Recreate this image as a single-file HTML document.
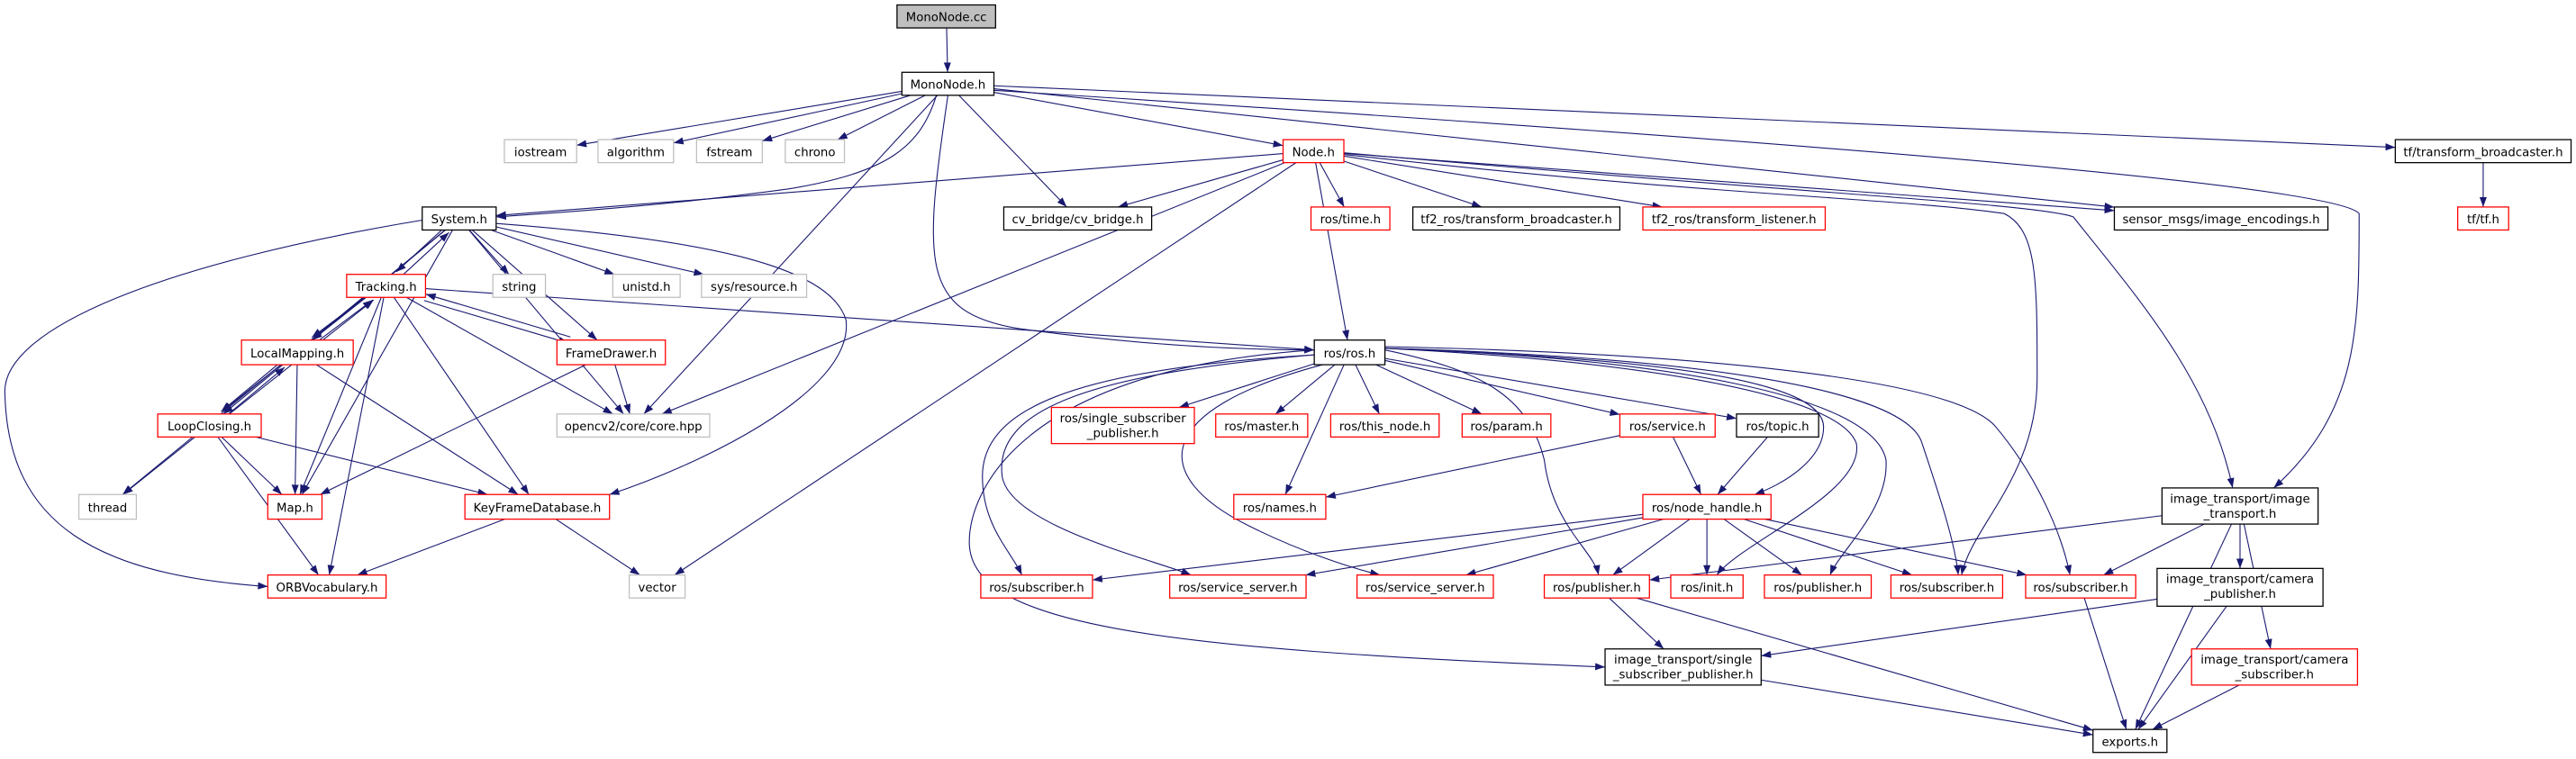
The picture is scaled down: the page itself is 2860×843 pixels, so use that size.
<!DOCTYPE html>
<html><head><meta charset="utf-8"><style>
html,body{margin:0;padding:0;background:#fff}
svg{display:block}
text{font-family:"DejaVu Sans","Liberation Sans",sans-serif;font-size:7.3px;fill:#000;text-anchor:middle}
.b rect{fill:#fff;stroke:#000;stroke-width:0.7}
.r rect{fill:#fff;stroke:#f00;stroke-width:0.7}
.g rect{fill:#fff;stroke:#bfbfbf;stroke-width:0.7}
.c rect{fill:#bfbfbf;stroke:#000;stroke-width:0.7}
.e{fill:none;stroke:#191970;stroke-width:0.6}
</style></head><body>
<svg id="s" width="2860" height="843" viewBox="0 0 1568 462" preserveAspectRatio="none" xmlns="http://www.w3.org/2000/svg">
<defs><marker id="a" markerUnits="userSpaceOnUse" markerWidth="7" markerHeight="5" refX="6" refY="2.2" orient="auto"><path d="M0,0 L6,2.2 L0,4.4 z" fill="#191970"/></marker></defs>
<g id="edges"></g>
<g class="c"><rect x="546" y="3" width="60" height="14"/><text x="576" y="13">MonoNode.cc</text></g>
<g class="b"><rect x="549" y="44" width="56" height="14"/><text x="577" y="54">MonoNode.h</text></g>
<g class="g"><rect x="307" y="85" width="44" height="14"/><text x="329" y="95">iostream</text></g>
<g class="g"><rect x="364" y="85" width="46" height="14"/><text x="387" y="95">algorithm</text></g>
<g class="g"><rect x="424" y="85" width="40" height="14"/><text x="444" y="95">fstream</text></g>
<g class="g"><rect x="478" y="85" width="36" height="14"/><text x="496" y="95">chrono</text></g>
<g class="r"><rect x="781" y="85" width="37" height="14"/><text x="799.5" y="95">Node.h</text></g>
<g class="b"><rect x="1458" y="85" width="107" height="14"/><text x="1511.5" y="95">tf/transform_broadcaster.h</text></g>
<g class="b"><rect x="257" y="126" width="45" height="14"/><text x="279.5" y="136">System.h</text></g>
<g class="b"><rect x="611" y="126" width="90" height="14"/><text x="656" y="136">cv_bridge/cv_bridge.h</text></g>
<g class="r"><rect x="798" y="126" width="48" height="14"/><text x="822" y="136">ros/time.h</text></g>
<g class="b"><rect x="860" y="126" width="126" height="14"/><text x="923" y="136">tf2_ros/transform_broadcaster.h</text></g>
<g class="r"><rect x="1000" y="126" width="111" height="14"/><text x="1055.5" y="136">tf2_ros/transform_listener.h</text></g>
<g class="b"><rect x="1287" y="126" width="130" height="14"/><text x="1352" y="136">sensor_msgs/image_encodings.h</text></g>
<g class="r"><rect x="1496" y="126" width="31" height="14"/><text x="1511.5" y="136">tf/tf.h</text></g>
<g class="r"><rect x="211" y="167" width="48" height="14"/><text x="235" y="177">Tracking.h</text></g>
<g class="g"><rect x="300" y="167" width="32" height="14"/><text x="316" y="177">string</text></g>
<g class="g"><rect x="373" y="167" width="41" height="14"/><text x="393.5" y="177">unistd.h</text></g>
<g class="g"><rect x="427" y="167" width="64" height="14"/><text x="459" y="177">sys/resource.h</text></g>
<g class="r"><rect x="147" y="207" width="68" height="15"/><text x="181" y="217.5">LocalMapping.h</text></g>
<g class="r"><rect x="339" y="207" width="66" height="15"/><text x="372" y="217.5">FrameDrawer.h</text></g>
<g class="b"><rect x="800" y="207" width="43" height="15"/><text x="821.5" y="217.5">ros/ros.h</text></g>
<g class="r"><rect x="96" y="252" width="63" height="14"/><text x="127.5" y="262">LoopClosing.h</text></g>
<g class="g"><rect x="339" y="252" width="93" height="14"/><text x="385.5" y="262">opencv2/core/core.hpp</text></g>
<g class="r"><rect x="640" y="248" width="87" height="22"/><text x="683.5" y="257">ros/single_subscriber</text><text x="683.5" y="266">_publisher.h</text></g>
<g class="r"><rect x="740" y="252" width="56" height="14"/><text x="768" y="262">ros/master.h</text></g>
<g class="r"><rect x="810" y="252" width="66" height="14"/><text x="843" y="262">ros/this_node.h</text></g>
<g class="r"><rect x="890" y="252" width="54" height="14"/><text x="917" y="262">ros/param.h</text></g>
<g class="r"><rect x="986" y="252" width="58" height="14"/><text x="1015" y="262">ros/service.h</text></g>
<g class="b"><rect x="1057" y="252" width="50" height="14"/><text x="1082" y="262">ros/topic.h</text></g>
<g class="g"><rect x="48" y="301" width="35" height="15"/><text x="65.5" y="311.5">thread</text></g>
<g class="r"><rect x="163" y="301" width="33" height="15"/><text x="179.5" y="311.5">Map.h</text></g>
<g class="r"><rect x="283" y="301" width="88" height="15"/><text x="327" y="311.5">KeyFrameDatabase.h</text></g>
<g class="r"><rect x="751" y="301" width="56" height="15"/><text x="779" y="311.5">ros/names.h</text></g>
<g class="r"><rect x="1000" y="301" width="78" height="15"/><text x="1039" y="311.5">ros/node_handle.h</text></g>
<g class="b"><rect x="1316" y="297" width="95" height="22"/><text x="1363.5" y="306">image_transport/image</text><text x="1363.5" y="315">_transport.h</text></g>
<g class="r"><rect x="163" y="350" width="72" height="14"/><text x="199" y="360">ORBVocabulary.h</text></g>
<g class="g"><rect x="383" y="350" width="34" height="14"/><text x="400" y="360">vector</text></g>
<g class="r"><rect x="597" y="350" width="68" height="14"/><text x="631" y="360">ros/subscriber.h</text></g>
<g class="r"><rect x="712" y="350" width="83" height="14"/><text x="753.5" y="360">ros/service_server.h</text></g>
<g class="r"><rect x="826" y="350" width="83" height="14"/><text x="867.5" y="360">ros/service_server.h</text></g>
<g class="r"><rect x="940" y="350" width="64" height="14"/><text x="972" y="360">ros/publisher.h</text></g>
<g class="r"><rect x="1017" y="350" width="44" height="14"/><text x="1039" y="360">ros/init.h</text></g>
<g class="r"><rect x="1074" y="350" width="65" height="14"/><text x="1106.5" y="360">ros/publisher.h</text></g>
<g class="r"><rect x="1151" y="350" width="68" height="14"/><text x="1185" y="360">ros/subscriber.h</text></g>
<g class="r"><rect x="1233" y="350" width="67" height="14"/><text x="1266.5" y="360">ros/subscriber.h</text></g>
<g class="b"><rect x="1313" y="346" width="101" height="23"/><text x="1363.5" y="355">image_transport/camera</text><text x="1363.5" y="364">_publisher.h</text></g>
<g class="b"><rect x="977" y="395" width="95" height="22"/><text x="1024.5" y="404">image_transport/single</text><text x="1024.5" y="413">_subscriber_publisher.h</text></g>
<g class="r"><rect x="1334" y="395" width="101" height="22"/><text x="1384.5" y="404">image_transport/camera</text><text x="1384.5" y="413">_subscriber.h</text></g>
<g class="b"><rect x="1274" y="444" width="45" height="14"/><text x="1296.5" y="454">exports.h</text></g>
</svg>
<script>
var N={cc:[546,606,3,17],mh:[549,605,44,58],io:[307,351,85,99],al:[364,410,85,99],fs:[424,464,85,99],ch:[478,514,85,99],nd:[781,818,85,99],tfb:[1458,1565,85,99],sy:[257,302,126,140],cv:[611,701,126,140],tm:[798,846,126,140],t2b:[860,986,126,140],t2l:[1000,1111,126,140],se:[1287,1417,126,140],tf:[1496,1527,126,140],tr:[211,259,167,181],st:[300,332,167,181],un:[373,414,167,181],sr:[427,491,167,181],lm:[147,215,207,222],fd:[339,405,207,222],ros:[800,843,207,222],lc:[96,159,252,266],ocv:[339,432,252,266],ssp:[640,727,248,270],ma:[740,796,252,266],tn:[810,876,252,266],pa:[890,944,252,266],sv:[986,1044,252,266],tp:[1057,1107,252,266],th:[48,83,301,316],mp:[163,196,301,316],kf:[283,371,301,316],nm:[751,807,301,316],nh:[1000,1078,301,316],it:[1316,1411,297,319],ob:[163,235,350,364],ve:[383,417,350,364],s1:[597,665,350,364],q1:[712,795,350,364],q2:[826,909,350,364],p1:[940,1004,350,364],in:[1017,1061,350,364],p2:[1074,1139,350,364],s2:[1151,1219,350,364],s3:[1233,1300,350,364],cp:[1313,1414,346,369],its:[977,1072,395,417],cs:[1334,1435,395,417],ex:[1274,1319,444,458]};
var E=[["cc","mh"],["mh","io"],["mh","al"],["mh","fs"],["mh","ch"],["mh","cv"],["mh","nd"],["mh","ocv"],["mh","tfb"],["mh","se"],
["nd","sy"],["nd","cv"],["nd","tm"],["nd","t2b"],["nd","t2l"],["nd","se"],["nd","ros"],["nd","ocv"],["nd","ve"],["tfb","tf"],
["sy","tr"],["sy","st"],["sy","un"],["sy","sr"],["sy","lm"],["sy","fd"],["sy","ocv"],["sy","lc"],["sy","mp"],["sy","th"],
["tr","sy"],["tr","lm"],["tr","lc"],["tr","fd"],["tr","mp"],["tr","kf"],["tr","ob"],["tr","ocv"],["tr","ros"],
["lm","tr"],["lm","lc"],["lm","mp"],["lm","kf"],["lc","tr"],["lc","lm"],["lc","th"],["lc","mp"],["lc","kf"],["lc","ob"],
["fd","tr"],["fd","ocv"],["fd","mp"],["kf","ob"],["kf","ve"],
["ros","ssp"],["ros","ma"],["ros","tn"],["ros","pa"],["ros","sv"],["ros","tp"],["ros","nm"],
["sv","nm"],["sv","nh"],["tp","nh"],
["nh","s1"],["nh","q1"],["nh","q2"],["nh","p1"],["nh","in"],["nh","p2"],["nh","s2"],["nh","s3"],
["it","p1"],["it","s3"],["it","cp"],["it","cs"],["it","ex"],["cp","its"],["cp","ex"],["cs","ex"],["its","ex"],["p1","its"],["p1","ex"],["s3","ex"]];
var S={};E.forEach(function(e){S[e[0]+">"+e[1]]=1;});
function clip(B,cx,cy,dx,dy){var hw=(B[1]-B[0])/2,hh=(B[3]-B[2])/2;var t=Math.min(dx?hw/Math.abs(dx):1e9,dy?hh/Math.abs(dy):1e9);return [cx+dx*t,cy+dy*t];}
var g=document.getElementById("edges"),h="";
E.forEach(function(e){var A=N[e[0]],B=N[e[1]];var ax=(A[0]+A[1])/2,ay=(A[2]+A[3])/2,bx=(B[0]+B[1])/2,by=(B[2]+B[3])/2;
var dx=bx-ax,dy=by-ay,L=Math.sqrt(dx*dx+dy*dy);
var off=S[e[1]+">"+e[0]]?2:0;var px=-dy/L*off,py=dx/L*off;
ax+=px;ay+=py;bx+=px;by+=py;
var P=clip(A,ax,ay,dx,dy),Q=clip(B,bx,by,-dx,-dy);
h+='<path class="e" marker-end="url(#a)" d="M'+P[0].toFixed(1)+','+P[1].toFixed(1)+' L'+Q[0].toFixed(1)+','+Q[1].toFixed(1)+'"/>';});
var C=["M570,58 C560,90 540,105 480,115 C400,126 330,130 302,132",
"M577,58 C562,160 560,190 620,200 C700,211 760,213 800,213",
"M257,134 C100,160 0,200 3,240 C5,320 60,350 163,357",
"M302,136 C420,145 505,160 515,195 C520,240 420,285 371,301",
"M818,94 C1050,120 1150,120 1220,130 C1240,140 1240,170 1240,230 C1240,290 1200,320 1194,350",
"M818,93 C1100,118 1240,124 1262,132 C1300,180 1345,230 1359,297",
"M605,55 C1000,80 1420,110 1436,130 C1436,200 1436,250 1384,297",
"M800,213 C620,225 590,300 590,330 C590,380 700,395 977,406",
"M800,216 C650,225 598,250 598,290 C598,320 615,335 622,350",
"M800,216 C660,228 605,250 610,290 C615,320 700,340 725,350",
"M805,222 C700,250 700,290 760,320 C790,335 820,345 840,350",
"M843,213 C900,225 930,240 940,280 C945,320 970,335 973,350",
"M843,212 C1000,220 1120,240 1130,270 C1135,300 1060,330 1045,350",
"M843,212 C1010,218 1140,240 1148,280 C1150,310 1120,335 1114,350",
"M843,212 C1020,217 1160,235 1170,270 C1180,300 1190,330 1192,350",
"M843,211 C1030,215 1190,230 1215,260 C1240,290 1255,325 1260,350",
"M843,212 C1000,218 1110,230 1110,260 C1110,280 1085,295 1068,301"];
C.forEach(function(d){h+='<path class="e" marker-end="url(#a)" d="'+d+'"/>';});
g.innerHTML=h;
</script>
</body></html>
